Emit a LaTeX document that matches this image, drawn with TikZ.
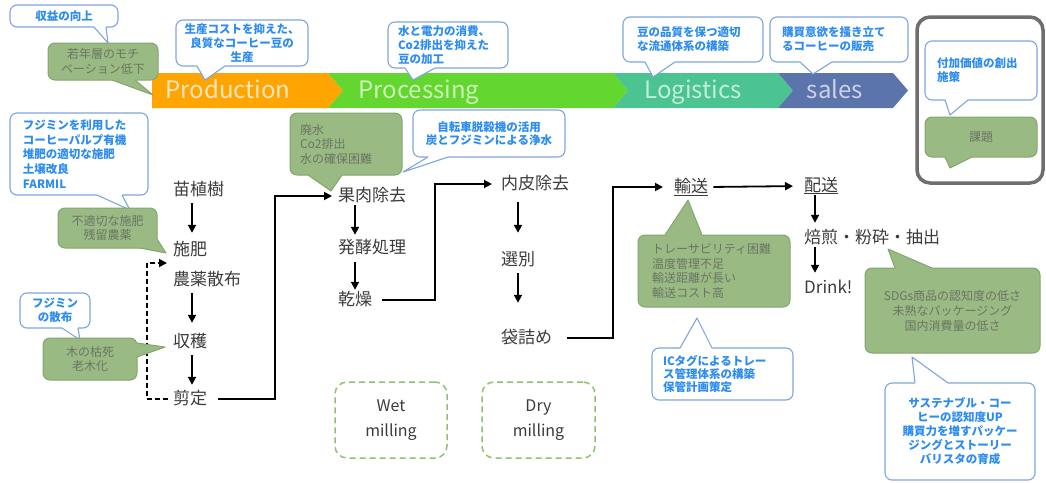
\documentclass[tikz,border=0pt]{standalone}
\usepackage{fontspec}
\setmainfont{Noto Sans CJK JP}
\usetikzlibrary{arrows.meta,calc}

\definecolor{bline}{HTML}{7EA6DC}
\definecolor{btext}{HTML}{2D8CF0}
\definecolor{gfillc}{HTML}{9ABA84}
\definecolor{glinec}{HTML}{84A56F}
\definecolor{gtextc}{HTML}{6A7563}
\definecolor{flowc}{HTML}{3C3C3C}
\definecolor{cprod}{HTML}{FFA502}
\definecolor{cproc}{HTML}{63D62F}
\definecolor{clog}{HTML}{4CC492}
\definecolor{csales}{HTML}{5B74AB}
\definecolor{tprod}{HTML}{FFE6BF}
\definecolor{tproc}{HTML}{CDF3B8}
\definecolor{tlog}{HTML}{C2EDDA}
\definecolor{tsales}{HTML}{CBD2E6}
\definecolor{millc}{HTML}{8DC370}
\definecolor{framec}{HTML}{6E6E6E}

% pointer of a speech bubble: style prefix, base point, tip, base point, inward shift
\newcommand\calltip[5]{%
  \fill[#1pf] ($(#2)+(#5)$) -- (#2) -- (#3) -- (#4) -- ($(#4)+(#5)$) -- cycle;
  \draw[#1pe] (#2) -- (#3) -- (#4);}

\begin{document}
\begin{tikzpicture}[x=1pt,y=-1pt,
  bcall/.style={draw=bline, fill=white, line width=1.1pt, rounded corners=7pt,
    text=btext, font=\bfseries\fontsize{11.5}{14}\selectfont, inner sep=2pt},
  gcall/.style={draw=glinec, fill=gfillc, line width=1pt, rounded corners=7pt,
    text=gtextc, font=\fontsize{12}{14.5}\selectfont, inner sep=2pt},
  bpf/.style={fill=white},
  bpe/.style={draw=bline, line width=1.1pt, line join=round},
  gpf/.style={fill=gfillc},
  gpe/.style={draw=glinec, line width=1pt, line join=round},
  stagelabel/.style={inner sep=0pt, anchor=base, font=\fontsize{24}{24}\selectfont},
  proc/.style={anchor=west, inner sep=1pt, text=flowc,
    font=\fontsize{17}{17}\selectfont, text height=13pt, text depth=3pt},
  flow/.style={draw=black, line width=1.8pt, -{Triangle[length=8pt,width=8pt]}},
  mill/.style={draw=millc, dash pattern=on 6pt off 4pt, line width=1.5pt,
    rounded corners=12pt, align=center, text=flowc, font=\fontsize{16}{25}\selectfont},
]
\useasboundingbox (0,0) rectangle (1046,482);
\fill[white] (0,0) rectangle (1046,482);

% value chain band
\fill[cprod] (152,73) -- (328,73) -- (343,90.5) -- (328,108) -- (152,108) -- cycle;
\fill[cproc] (328,73) -- (613,73) -- (628,90.5) -- (613,108) -- (328,108) -- (343,90.5) -- cycle;
\fill[clog] (613,73) -- (778,73) -- (793,90.5) -- (778,108) -- (613,108) -- (628,90.5) -- cycle;
\fill[csales] (778,73) -- (893,73) -- (908,90.5) -- (893,108) -- (778,108) -- (793,90.5) -- cycle;
\node[stagelabel, text=tprod] (lprod) at (228,98.5) {Production};
\node[stagelabel, text=tproc] (lproc) at (419,98.5) {Processing};
\node[stagelabel, text=tlog] (llog) at (693,98.5) {Logistics};
\node[stagelabel, text=tsales] (lsales) at (835,98.5) {sales};

% process steps
\node[proc] (nae) at (172,190) {苗植樹};
\node[proc] (sehi) at (172,250) {施肥};
\node[proc] (noyaku) at (172,280) {農薬散布};
\node[proc] (shukaku) at (172,342) {収穫};
\node[proc] (sentei) at (172,399) {剪定};
\node[proc] (kaniku) at (337,196) {果肉除去};
\node[proc] (hakko) at (337,248) {発酵処理};
\node[proc] (kanso) at (337,300) {乾燥};
\node[proc] (naihi) at (500,184) {内皮除去};
\node[proc] (senbetsu) at (500,260) {選別};
\node[proc] (fukuzume) at (500,338) {袋詰め};
\node[proc] (yuso) at (673,187) {\underline{輸送}};
\node[proc] (haiso) at (803,186) {\underline{配送}};
\node[proc] (baisen) at (803,238) {焙煎・粉砕・抽出};
\node[proc] (drink) at (803,288) {Drink!};

\coordinate (j0) at (147,0);
\coordinate (j1) at (275,0);
\coordinate (j2) at (435,0);
\coordinate (j3) at (613,0);

% vertical steps
\draw[flow, shorten <=4pt, shorten >=8pt] ([xshift=20pt]nae.south west) -- ([xshift=20pt]sehi.north west);
\draw[flow, shorten <=4pt, shorten >=10pt] ([xshift=20pt]noyaku.south west) -- ([xshift=20pt]shukaku.north west);
\draw[flow, shorten <=4pt, shorten >=5pt] ([xshift=20pt]shukaku.south west) -- ([xshift=20pt]sentei.north west);
\draw[flow, shorten <=0pt, shorten >=4pt] ([xshift=18pt]kaniku.south west) -- ([xshift=18pt]hakko.north west);
\draw[flow, shorten <=5pt, shorten >=1pt] ([xshift=18pt]hakko.south west) -- ([xshift=18pt]kanso.north west);
\draw[flow, shorten <=9pt, shorten >=18pt] ([xshift=18pt]naihi.south west) -- ([xshift=18pt]senbetsu.north west);
\draw[flow, shorten <=4pt, shorten >=26pt] ([xshift=18pt]senbetsu.south west) -- ([xshift=18pt]fukuzume.north west);
\draw[flow, shorten <=0pt, shorten >=6pt] ([xshift=12pt]haiso.south west) -- ([xshift=12pt]baisen.north west);
\draw[flow, shorten <=0pt, shorten >=6pt] ([xshift=12pt]baisen.south west) -- ([xshift=12pt]drink.north west);

% stage-to-stage links
\draw[flow, shorten <=10pt, shorten >=5pt] (sentei.east) -- (sentei.east -| j1) |- (kaniku.west);
\draw[flow, shorten <=9pt, shorten >=8pt] (kanso.east) -- (kanso.east -| j2) |- (naihi.west);
\draw[flow, shorten <=14pt, shorten >=10pt] (fukuzume.east) -- (fukuzume.east -| j3) |- (yuso.west);
\draw[flow, shorten <=4pt, shorten >=10pt] (yuso.east) -- (haiso.west);
\draw[flow, dash pattern=on 5pt off 3pt, shorten <=4pt, shorten >=5pt]
  (sentei.west) -- (sentei.west -| j0) |- ([yshift=-13pt]sehi.west);

% milling methods
\node[mill, minimum width=112, minimum height=76] (wet) at (391,420) {Wet\\milling};
\node[mill, minimum width=113, minimum height=76] (dry) at (538.5,420) {Dry\\milling};

% bubbles: production
\node[bcall, minimum width=108, minimum height=22] (cshueki) at (64,16) {収益の向上};
\calltip{b}{94,27}{108,43}{106,27}{0,-3}
\node[gcall, minimum width=110, minimum height=37, align=center] (cwakate) at (103,61.5) {若年層のモチ\\ベーション低下};
\calltip{g}{112,80}{153,95}{135,80}{0,-3}
\node[bcall, minimum width=132, minimum height=46, align=center] (ccost) at (242,43) {生産コストを抑えた、\\良質なコーヒー豆の\\生産};
\calltip{b}{197,66}{205,80}{225,66}{0,-3}
\node[bcall, minimum width=138, minimum height=82, text width=112, align=left,
  font=\bfseries\fontsize{11.5}{14.7}\selectfont] (cfarmil) at (79,154)
  {フジミンを利用した\\コーヒーパルプ有機\\堆肥の適切な施肥\\土壌改良\\FARMIL};
\calltip{b}{97,195}{130,210}{122,195}{0,-3}
\node[gcall, minimum width=99, minimum height=40, align=center] (csehi) at (107.5,228) {不適切な施肥\\残留農薬};
\calltip{g}{140,248}{166,253}{157,239}{-3,-3}
\node[bcall, minimum width=70, minimum height=35, align=center] (csanpu) at (55,310.5) {フジミン\\の散布};
\calltip{b}{62,328}{80,340}{78,328}{0,-3}
\node[gcall, minimum width=94, minimum height=42, align=center] (ckoshi) at (90,359) {木の枯死\\老木化};
\calltip{g}{137,343}{165,347}{137,357}{-3,0}

% bubbles: processing
\node[bcall, minimum width=120, minimum height=46, text width=100, align=left] (cwater) at (448,45) {水と電力の消費、\\Co2排出を抑えた\\豆の加工};
\calltip{b}{405,68}{413,80}{435,68}{0,-3}
\node[gcall, minimum width=112, minimum height=62, text width=92, align=left] (chaisui) at (346,144) {廃水\\Co2排出\\水の確保困難};
\calltip{g}{308,175}{331,191}{342,175}{0,-3}
\node[bcall, minimum width=152, minimum height=47, align=center,
  font=\bfseries\fontsize{11.5}{12.5}\selectfont] (cjitensha) at (489,133.5) {自転車脱穀機の活用\\炭とフジミンによる浄水};
\calltip{b}{428,157}{403,172}{448,157}{0,-3}

% bubbles: logistics
\node[bcall, minimum width=140, minimum height=45, text width=112, align=left] (cryutsu) at (693,39.5) {豆の品質を保つ適切\\な流通体系の構築};
\calltip{b}{645,62}{653,77}{675,62}{0,-3}
\node[gcall, minimum width=152, minimum height=72, text width=124, align=left] (ctrace) at (714,271) {トレーサビリティ困難\\温度管理不足\\輸送距離が長い\\輸送コスト高};
\calltip{g}{665,235}{688,200}{702,235}{0,3}
\node[bcall, minimum width=141, minimum height=52, text width=119, align=left,
  font=\bfseries\fontsize{11.5}{13}\selectfont] (cictag) at (722.5,374) {ICタグによるトレー\\ス管理体系の構築\\保管計画策定};
\calltip{b}{680,348}{697,318}{712,348}{0,3}

% bubbles: sales
\node[bcall, minimum width=138, minimum height=45, text width=114, align=left] (chanbai) at (839,39.5) {購買意欲を掻き立て\\るコーヒーの販売};
\calltip{b}{800,62}{813,74}{832,62}{0,-3}
\node[gcall, minimum width=175, minimum height=85, align=center,
  font=\fontsize{12}{15}\selectfont] (csdgs) at (952.5,310.5) {SDGs商品の認知度の低さ\\未熟なパッケージング\\国内消費量の低さ};
\calltip{g}{895,268}{888,249}{932,268}{0,3}
\node[bcall, minimum width=150, minimum height=97, align=center] (csustain) at (960,431.5) {サステナブル・コー\\ヒーの認知度UP\\購買力を増すパッケー\\ジングとストーリー\\バリスタの育成};
\calltip{b}{915,383}{912,357}{948,383}{0,3}

% legend frame
\node[draw=framec, line width=3.5pt, rounded corners=13pt, minimum width=126, minimum height=166] (legend) at (980,100) {};
\node[bcall, minimum width=112, minimum height=59, text width=88, align=left] (cshisaku) at (981,70.5) {付加価値の創出\\施策};
\calltip{b}{945,100}{950,115}{968,100}{0,-3}
\node[gcall, minimum width=112, minimum height=40] (ckadai) at (981,137) {課題};
\calltip{g}{945,157}{950,168}{972,157}{0,-3}
\end{tikzpicture}
\end{document}
